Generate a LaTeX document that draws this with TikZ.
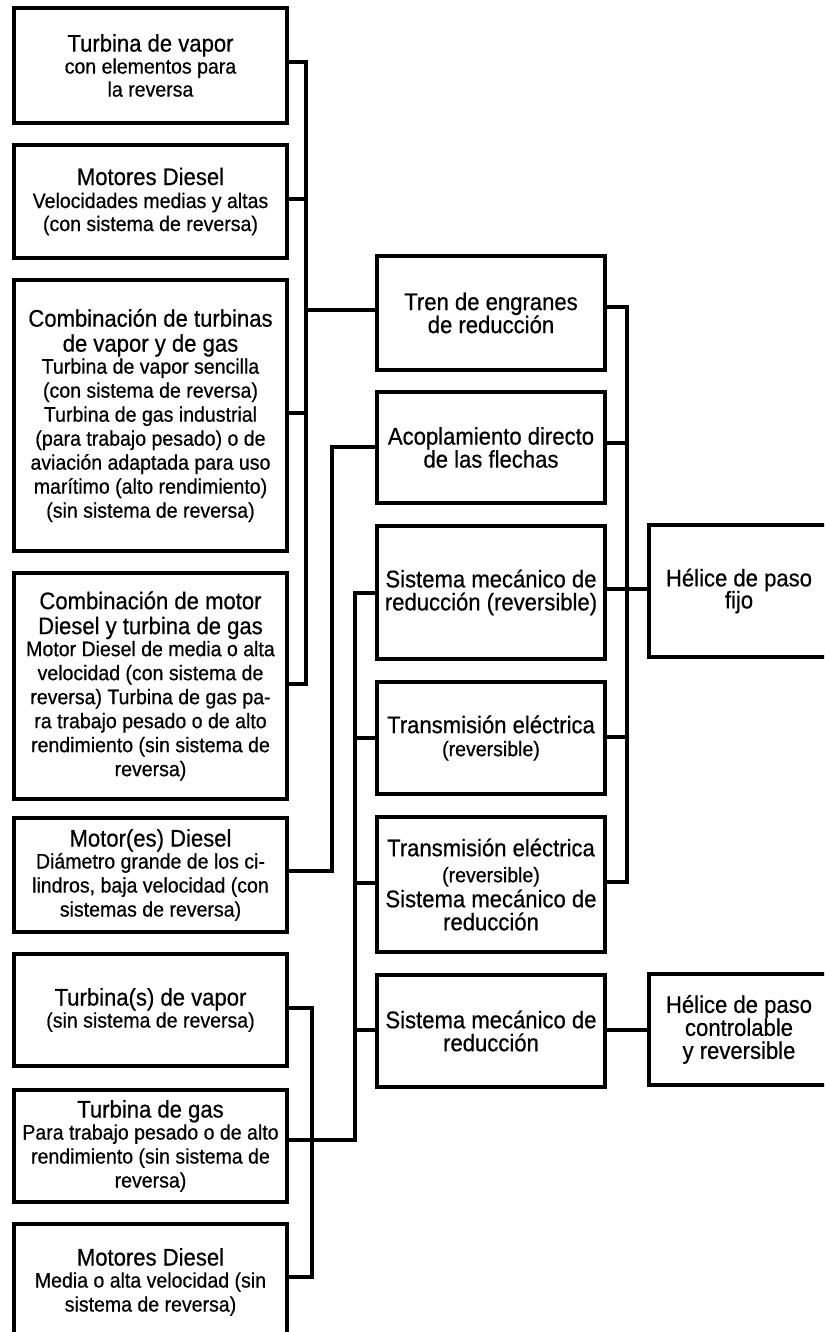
\documentclass[tikz,border=0pt]{standalone}
\usepackage{fontspec}
\setmainfont{Liberation Sans}[FakeStretch=0.92,FakeBold=0.6]
\newfontfamily\smallfam{Liberation Sans}[FakeStretch=0.93,FakeBold=0.6]
\newcommand{\tA}{\fontsize{24}{25}\selectfont}
\newcommand{\tB}{\smallfam\fontsize{21}{23}\selectfont}
\begin{document}
\begin{tikzpicture}[x=1pt,y=-1pt,
  box/.style={draw, line width=4pt, inner sep=0pt, outer sep=0pt, align=center, font=\tA},
  lbox/.style={box, minimum width=273pt},
  mbox/.style={box, minimum width=228pt},
  rbox/.style={box, minimum width=180pt},
  conn/.style={line width=3.5pt, line join=miter, line cap=rect}]
\useasboundingbox (0,0) rectangle (824,1332);
\clip (0,0) rectangle (824,1332);
% left column
\node[lbox, minimum height=115pt] (L1) at (150.5,65.5) {Turbina de vapor\\[-3pt]{\tB con elementos para}\\[-2pt]{\tB la reversa}};
\node[lbox, minimum height=113pt] (L2) at (150.5,201.5) {Motores Diesel\\[-2pt]{\tB Velocidades medias y altas}\\[-2pt]{\tB (con sistema de reversa)}};
\node[lbox, minimum height=271pt] (L3) at (150.5,415.5) {Combinación de turbinas\\de vapor y de gas\\[-3pt]
  {\tB Turbina de vapor sencilla}\\[-1pt]{\tB (con sistema de reversa)}\\[-1pt]{\tB Turbina de gas industrial}\\[-1pt]
  {\tB (para trabajo pesado) o de}\\[-1pt]{\tB aviación adaptada para uso}\\[-1pt]{\tB marítimo (alto rendimiento)}\\[-1pt]{\tB (sin sistema de reversa)}};
\node[lbox, minimum height=226pt] (L4) at (150.5,686) {Combinación de motor\\Diesel y turbina de gas\\[-3pt]
  {\tB Motor Diesel de media o alta}\\[-1pt]{\tB velocidad (con sistema de}\\[-1pt]{\tB reversa) Turbina de gas pa-}\\[-1pt]
  {\tB ra trabajo pesado o de alto}\\[-1pt]{\tB rendimiento (sin sistema de}\\[-1pt]{\tB reversa)}};
\node[lbox, minimum height=114pt] (L5) at (150.5,875) {Motor(es) Diesel\\[-3pt]{\tB Diámetro grande de los ci-}\\[-1pt]{\tB lindros, baja velocidad (con}\\[-1pt]{\tB sistemas de reversa)}};
\node[lbox, minimum height=112pt] (L6) at (150.5,1010) {Turbina(s) de vapor\\[-3pt]{\tB (sin sistema de reversa)}};
\node[lbox, minimum height=112pt] (L7) at (150.5,1146) {Turbina de gas\\[-3pt]{\tB Para trabajo pesado o de alto}\\[-1pt]{\tB rendimiento (sin sistema de}\\[-1pt]{\tB reversa)}};
\node[lbox, minimum height=116pt] (L8) at (150.5,1282) {Motores Diesel\\[-3pt]{\tB Media o alta velocidad (sin}\\[-1pt]{\tB sistema de reversa)}};
% middle column
\node[mbox, minimum height=114pt] (M1) at (491,313) {Tren de engranes\\[-2pt]de reducción};
\node[mbox, minimum height=111pt] (M2) at (491,447.5) {Acoplamiento directo\\[-2pt]de las flechas};
\node[mbox, minimum height=133pt] (M3) at (491,592.5) {Sistema mecánico de\\[-2pt]reducción (reversible)};
\node[mbox, minimum height=112pt] (M4) at (491,738) {Transmisión eléctrica\\[-2pt]{\tB (reversible)}};
\node[mbox, minimum height=135pt] (M5) at (491,884.5) {Transmisión eléctrica\\[1pt]{\tB (reversible)}\\[0pt]Sistema mecánico de\\[-2pt]reducción};
\node[mbox, minimum height=112pt] (M6) at (491,1031) {Sistema mecánico de\\[-2pt]reducción};
% right column
\node[rbox, minimum height=132pt] (R1) at (739,591) {Hélice de paso\\[-3pt]fijo};
\node[rbox, minimum height=111pt] (R2) at (739,1029.5) {Hélice de paso\\[-2pt]controlable\\[-2pt]y reversible};
% bus coordinates
\coordinate (a1) at (306,62);
\coordinate (a2) at (306,199);
\coordinate (am) at (306,310);
\coordinate (a3) at (306,413);
\coordinate (a4) at (306,684);
\coordinate (b1) at (332,447);
\coordinate (b2) at (332,871);
\coordinate (c1) at (355,593);
\coordinate (c2) at (355,738);
\coordinate (c3) at (355,883);
\coordinate (c4) at (355,1030);
\coordinate (c5) at (355,1140);
\coordinate (d1) at (312,1008);
\coordinate (d2) at (312,1277);
\coordinate (e1) at (627,307);
\coordinate (e2) at (627,443);
\coordinate (e3) at (627,589);
\coordinate (e4) at (627,737);
\coordinate (e5) at (627,882);
\coordinate (f1) at (627,1030);
% connectors
\draw[conn] (L1.east |- a1) -- (a1) -- (a4) -- (L4.east |- a4);
\draw[conn] (L2.east |- a2) -- (a2);
\draw[conn] (L3.east |- a3) -- (a3);
\draw[conn] (am) -- (M1.west |- am);
\draw[conn] (M2.west |- b1) -- (b1) -- (b2) -- (L5.east |- b2);
\draw[conn] (M3.west |- c1) -- (c1) -- (c5) -- (L7.east |- c5);
\draw[conn] (c2) -- (M4.west |- c2);
\draw[conn] (c3) -- (M5.west |- c3);
\draw[conn] (c4) -- (M6.west |- c4);
\draw[conn] (L6.east |- d1) -- (d1) -- (d2) -- (L8.east |- d2);
\draw[conn] (M1.east |- e1) -- (e1) -- (e5) -- (M5.east |- e5);
\draw[conn] (M2.east |- e2) -- (e2);
\draw[conn] (M3.east |- e3) -- (R1.west |- e3);
\draw[conn] (M4.east |- e4) -- (e4);
\draw[conn] (M6.east |- f1) -- (R2.west |- f1);
\end{tikzpicture}
\end{document}
